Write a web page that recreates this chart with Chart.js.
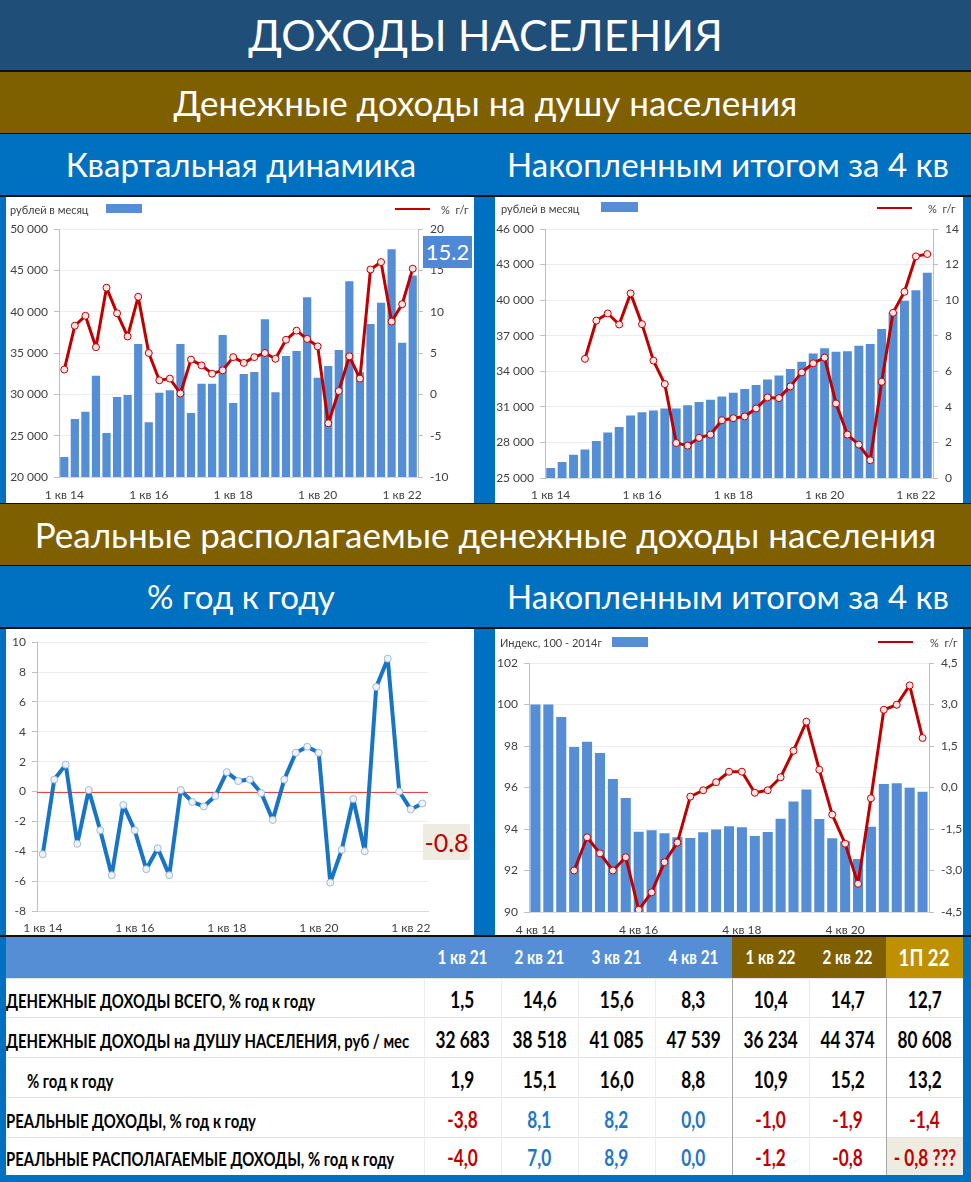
<!DOCTYPE html>
<html>
<head>
<meta charset="utf-8">
<script src="https://cdn.jsdelivr.net/npm/chart.js@4"></script>
<style>
  html, body { margin: 0; padding: 0; }
  body { width: 971px; height: 1182px; background: #0070C0; position: relative; overflow: hidden;
         font-family: Lato, "Open Sans", sans-serif; }
  .band { position: absolute; left: 0; width: 971px; color: #fff; text-align: center; }
  .sub { position: absolute; color: #fff; text-align: center; font-size: 33px; }
  .line { position: absolute; left: 0; width: 971px; background: #111; }
  .box { position: absolute; background: #fff; }
  .box canvas { position: absolute; left: 0; top: 0; }
  .lg { position: absolute; font-size: 11px; color: #404040; line-height: 1; }
  .sw { position: absolute; background: #558ED5; }
  .rl { position: absolute; height: 2px; background: #C00000; }
  .badge { position: absolute; text-align: center; }
  table { position: absolute; left: 6px; top: 937px; width: 957px; border-collapse: collapse; table-layout: fixed;
          font-family: Lato, sans-serif; font-weight: bold; }
  td { padding: 0; background: #fff; border-top: 1px solid #e3e3e3; border-left: 1px solid #ececec; white-space: nowrap; overflow: visible; }
  td .fx { display: flex; justify-content: center; width: 100%; }
  td span { display: inline-block; white-space: nowrap; flex: none; }
  td.lab { font-size: 18px; text-align: left; vertical-align: bottom; padding-bottom: 7px; line-height: 1; border-left: none; }
  td.lab span { transform-origin: left center; }
  td.num { font-size: 22px; vertical-align: bottom; padding-bottom: 6px; line-height: 1; }
  tr.head td { color: #fff; font-size: 18px; vertical-align: middle; border: none; background: #558ED5; }
</style>
</head>
<body>
<div class="band" style="top:0;height:70px;background:#1F4E79;font-size:43px;line-height:70px;">ДОХОДЫ НАСЕЛЕНИЯ</div>
<div class="line" style="top:70px;height:2px;"></div>
<div class="band" style="top:72px;height:61px;background:#7F6000;font-size:35px;line-height:61px;">Денежные доходы на душу населения</div>
<div class="line" style="top:133px;height:1px;"></div>
<div class="sub" style="left:0;width:482px;top:134px;line-height:61px;">Квартальная динамика</div>
<div class="sub" style="left:485px;width:486px;top:134px;line-height:61px;">Накопленным итогом за 4 кв</div>
<div class="line" style="top:195px;height:2px;"></div>

<div class="box" style="left:6px;top:197px;width:468px;height:306px;">
  <canvas id="c1" width="468" height="306"></canvas>
  <div class="lg" style="left:4px;top:7px;">рублей в месяц</div>
  <div class="sw" style="left:100px;top:7px;width:36px;height:9px;"></div>
  <div class="rl" style="left:389px;top:11px;width:35px;"></div>
  <div class="lg" style="left:435px;top:7px;">%&nbsp; г/г</div>
  <div class="badge" style="left:417px;top:39px;width:49px;height:32px;background:#4F88D6;color:#fff;font-size:22px;line-height:32px;">15.2</div>
</div>

<div class="box" style="left:495px;top:197px;width:468px;height:306px;">
  <canvas id="c2" width="468" height="306"></canvas>
  <div class="lg" style="left:6px;top:6px;">рублей в месяц</div>
  <div class="sw" style="left:106px;top:5px;width:37px;height:10px;"></div>
  <div class="rl" style="left:382px;top:10px;width:35px;"></div>
  <div class="lg" style="left:433px;top:6px;">%&nbsp; г/г</div>
</div>

<div class="line" style="top:503px;height:1px;"></div>
<div class="band" style="top:504px;height:61px;background:#7F6000;font-size:35px;line-height:61px;">Реальные располагаемые денежные доходы населения</div>
<div class="line" style="top:565px;height:1px;"></div>
<div class="sub" style="left:0;width:482px;top:566px;line-height:61px;">% год к году</div>
<div class="sub" style="left:485px;width:486px;top:566px;line-height:61px;">Накопленным итогом за 4 кв</div>
<div class="line" style="top:627px;height:2px;"></div>

<div class="box" style="left:6px;top:629px;width:468px;height:306px;">
  <canvas id="c3" width="468" height="306"></canvas>
  <div class="badge" style="left:417px;top:195px;width:47px;height:36px;background:#EEECE1;color:#C00000;font-size:25px;line-height:36px;">-0.8</div>
</div>

<div class="box" style="left:495px;top:629px;width:468px;height:306px;">
  <canvas id="c4" width="468" height="306"></canvas>
  <div class="lg" style="left:5px;top:8px;">Индекс, 100 - 2014г</div>
  <div class="sw" style="left:117px;top:8px;width:36px;height:10px;"></div>
  <div class="rl" style="left:383px;top:12px;width:35px;"></div>
  <div class="lg" style="left:435px;top:8px;">%&nbsp; г/г</div>
</div>

<div class="line" style="top:935px;height:2px;"></div>
<table id="tbl"></table>

<script>
// quarters 1 кв 14 .. 2 кв 22
const quarterLabels = [
  "1 кв 14", "2 кв 14", "3 кв 14", "4 кв 14", "1 кв 15", "2 кв 15", "3 кв 15", "4 кв 15",
  "1 кв 16", "2 кв 16", "3 кв 16", "4 кв 16", "1 кв 17", "2 кв 17", "3 кв 17", "4 кв 17",
  "1 кв 18", "2 кв 18", "3 кв 18", "4 кв 18", "1 кв 19", "2 кв 19", "3 кв 19", "4 кв 19",
  "1 кв 20", "2 кв 20", "3 кв 20", "4 кв 20", "1 кв 21", "2 кв 21", "3 кв 21", "4 кв 21",
  "1 кв 22", "2 кв 22"
];
// 4 кв 14 .. 2 кв 22
const accumLabels = quarterLabels.slice(3);

// денежные доходы на душу, руб в месяц (квартал)
const incomeQuarterly = [22420, 27020, 27900, 32260, 25320, 29680, 29920, 36090, 26610, 30200, 30480, 36090,
  27740, 31290, 31290, 37180, 28950, 32460, 32700, 39070, 30240, 34640, 35240, 41730,
  32020, 33430, 35360, 43670, 32683, 38518, 41085, 47539, 36234, 44374];
const incomeQuarterlyYoY = [3.0, 8.3, 9.5, 5.7, 12.9, 9.8, 7.0, 11.8, 5.0, 1.7, 1.9, 0.1,
  4.2, 3.5, 2.5, 2.9, 4.5, 3.8, 4.5, 5.0, 4.3, 6.6, 7.7, 6.7,
  5.8, -3.5, 0.4, 4.6, 1.9, 15.1, 16.0, 8.8, 10.9, 15.2];

// накопленным итогом за 4 кв
const incomeAccum = [25850, 26350, 26970, 27400, 28130, 28830, 29310, 30270, 30550, 30690, 30860, 30860,
  31140, 31400, 31600, 31880, 32190, 32500, 32840, 33310, 33650, 34190, 34810, 35510,
  35940, 35650, 35680, 36160, 36300, 37570, 38989, 39956, 40844, 42308];
const incomeAccumYoY = [null, null, null, 6.7, 8.85, 9.25, 8.63, 10.38, 8.65, 6.6, 5.28, 1.97,
  1.82, 2.26, 2.44, 3.25, 3.36, 3.46, 3.91, 4.53, 4.49, 5.15, 5.94, 6.45,
  6.77, 4.19, 2.44, 1.88, 1.0, 5.41, 9.29, 10.47, 12.46, 12.59];

// реальные располагаемые доходы, % г/г
const realDispYoY = [-4.2, 0.8, 1.8, -3.5, 0.1, -2.6, -5.6, -0.9, -2.6, -5.2, -3.8, -5.6,
  0.1, -0.7, -1.0, -0.3, 1.3, 0.7, 0.8, -0.1, -1.9, 0.8, 2.6, 3.0,
  2.6, -6.1, -3.9, -0.5, -4.0, 7.0, 8.9, 0.0, -1.2, -0.8];

// индекс реальных доходов, 100 - 2014г (4 кв 14 .. 2 кв 22)
const realIndex = [100.0, 100.0, 99.4, 97.95, 98.2, 97.66, 96.41, 95.49, 93.87, 93.94, 93.79, 93.6,
  93.57, 93.84, 93.98, 94.13, 94.08, 93.66, 93.86, 94.5, 95.33, 95.9, 94.48, 93.55,
  93.41, 92.55, 94.11, 96.17, 96.2, 95.99, 95.8];
const realIndexYoY = [null, null, null, -3.0, -1.8, -2.38, -3.0, -2.52, -4.42, -3.79, -2.7, -1.99,
  -0.33, -0.1, 0.19, 0.57, 0.57, -0.19, -0.1, 0.37, 1.33, 2.38, 0.64, -0.98,
  -2.03, -3.48, -0.39, 2.81, 2.99, 3.69, 1.79];

// таблица
const tableCols = ["1 кв 21", "2 кв 21", "3 кв 21", "4 кв 21", "1 кв 22", "2 кв 22", "1П 22"];
const rowLabels = [
  "ДЕНЕЖНЫЕ ДОХОДЫ ВСЕГО, % год к году",
  "ДЕНЕЖНЫЕ ДОХОДЫ на ДУШУ НАСЕЛЕНИЯ, руб / мес",
  "% год к году",
  "РЕАЛЬНЫЕ ДОХОДЫ, % год к году",
  "РЕАЛЬНЫЕ РАСПОЛАГАЕМЫЕ ДОХОДЫ, % год к году"
];
const rowTotalYoY = ["1,5", "14,6", "15,6", "8,3", "10,4", "14,7", "12,7"];
const rowPerCapita = ["32 683", "38 518", "41 085", "47 539", "36 234", "44 374", "80 608"];
const rowPerCapitaYoY = ["1,9", "15,1", "16,0", "8,8", "10,9", "15,2", "13,2"];
const rowReal = ["-3,8", "8,1", "8,2", "0,0", "-1,0", "-1,9", "-1,4"];
const rowRealDisp = ["-4,0", "7,0", "8,9", "0,0", "-1,2", "-0,8", "- 0,8 ???"];

Chart.defaults.font.family = 'Lato, "Open Sans", sans-serif';
Chart.defaults.font.size = 12;
Chart.defaults.color = "#404040";
Chart.defaults.animation = false;
Chart.defaults.plugins.legend.display = false;
Chart.defaults.plugins.tooltip.enabled = false;

const AXIS = "#BFBFBF";
const GRID = "#EDEDED";
const BAR = "#558ED5";
const RED = "#C00000";

function spaced(v) {
  return String(v).replace(/\B(?=(\d{3})+(?!\d))/g, " ");
}

function xAxis(labels, h, pad) {
  return {
    offset: true,
    grid: { display: false, drawTicks: false },
    border: { color: "#D9D9D9" },
    ticks: { autoSkip: false, maxRotation: 0, padding: pad,
             callback: (v, i) => (i % 8 === 0 ? labels[i] : "") },
    afterFit: s => { s.height = h; }
  };
}

function leftAxis(min, max, step, w, fmt) {
  return {
    position: "left", min: min, max: max,
    ticks: { stepSize: step, padding: 6, callback: fmt },
    grid: { color: GRID, tickColor: AXIS, tickLength: 5 },
    border: { color: AXIS },
    afterFit: s => { s.width = w; }
  };
}

function rightAxis(min, max, step, w, fmt) {
  return {
    position: "right", min: min, max: max,
    ticks: { stepSize: step, padding: 7, callback: fmt },
    grid: { drawOnChartArea: false, tickColor: AXIS, tickLength: 5 },
    border: { color: AXIS },
    afterFit: s => { s.width = w; }
  };
}

function redLine(data) {
  return {
    type: "line", data: data, yAxisID: "y1", order: 0,
    borderColor: RED, borderWidth: 3, tension: 0, borderJoinStyle: "round",
    pointRadius: 3.5, pointBackgroundColor: "#FBE4E4", pointBorderColor: RED, pointBorderWidth: 1
  };
}

function blueBars(data) {
  return {
    type: "bar", data: data, yAxisID: "y", order: 1,
    backgroundColor: BAR, categoryPercentage: 1, barPercentage: 0.78
  };
}

// thin red line at zero, under the data
const zeroLine = {
  id: "zeroLine",
  beforeDatasetsDraw(chart) {
    const y = Math.round(chart.scales.y.getPixelForValue(0)) + 0.5;
    const a = chart.chartArea;
    const ctx = chart.ctx;
    ctx.save();
    ctx.strokeStyle = "#E8453C";
    ctx.lineWidth = 1;
    ctx.beginPath();
    ctx.moveTo(a.left, y);
    ctx.lineTo(a.right, y);
    ctx.stroke();
    ctx.restore();
  }
};

// 1. квартальная динамика
new Chart(document.getElementById("c1"), {
  data: { labels: quarterLabels, datasets: [redLine(incomeQuarterlyYoY), blueBars(incomeQuarterly)] },
  options: {
    responsive: false,
    layout: { padding: { top: 32, left: 0, right: 0, bottom: 0 } },
    scales: {
      x: xAxis(quarterLabels, 26, 11),
      y: leftAxis(20000, 50000, 5000, 53, v => spaced(v)),
      y1: rightAxis(-10, 20, 5, 56, v => v)
    }
  }
});

// 2. накопленным итогом за 4 кв
new Chart(document.getElementById("c2"), {
  data: { labels: quarterLabels, datasets: [redLine(incomeAccumYoY), blueBars(incomeAccum)] },
  options: {
    responsive: false,
    layout: { padding: { top: 32, left: 0, right: 0, bottom: 0 } },
    scales: {
      x: xAxis(quarterLabels, 25, 10),
      y: leftAxis(25000, 46000, 3000, 50, v => spaced(v)),
      y1: rightAxis(0, 14, 2, 30, v => v)
    }
  }
});

// 3. реальные располагаемые, % г/г
new Chart(document.getElementById("c3"), {
  type: "line",
  data: {
    labels: quarterLabels,
    datasets: [{
      data: realDispYoY, borderColor: "#1874C4", borderWidth: 4, tension: 0, borderJoinStyle: "round",
      pointRadius: 3.5, pointBackgroundColor: "#EEF3F9", pointBorderColor: "#9DB9D8", pointBorderWidth: 1
    }]
  },
  options: {
    responsive: false,
    layout: { padding: { top: 13, left: 0, right: 46, bottom: 0 } },
    scales: {
      x: xAxis(quarterLabels, 24, 10),
      y: leftAxis(-8, 10, 2, 31, v => v)
    }
  },
  plugins: [zeroLine]
});

// 4. индекс реальных доходов, накопленным итогом
new Chart(document.getElementById("c4"), {
  data: { labels: accumLabels, datasets: [redLine(realIndexYoY), blueBars(realIndex)] },
  options: {
    responsive: false,
    layout: { padding: { top: 34, left: 0, right: 0, bottom: 0 } },
    scales: {
      x: xAxis(accumLabels, 23, 11),
      y: leftAxis(90, 102, 2, 34, v => v),
      y1: rightAxis(-4.5, 4.5, 1.5, 34, v => v.toFixed(1).replace(".", ","))
    }
  }
});

// таблица
const tbl = document.getElementById("tbl");
const colW = [418, 77, 77, 77, 77, 77, 77, 77];
const cg = document.createElement("colgroup");
colW.forEach(w => { const c = document.createElement("col"); c.style.width = w + "px"; cg.appendChild(c); });
tbl.appendChild(cg);

function cell(text, cls) {
  const td = document.createElement("td");
  if (cls) td.className = cls;
  const sp = document.createElement("span");
  sp.textContent = text;
  if (cls === "lab") {
    td.appendChild(sp);
  } else {
    const fx = document.createElement("div");
    fx.className = "fx";
    fx.appendChild(sp);
    td.appendChild(fx);
  }
  return td;
}

const head = document.createElement("tr");
head.className = "head";
head.style.height = "41px";
head.appendChild(document.createElement("td"));
tableCols.forEach((c, i) => {
  const td = cell(c, "hd");
  if (i === 4 || i === 5) td.style.background = "#7F6000";
  if (i === 6) { td.style.background = "#BF9000"; td.style.fontSize = "22px"; }
  head.appendChild(td);
});
tbl.appendChild(head);

const rows = [rowTotalYoY, rowPerCapita, rowPerCapitaYoY, rowReal, rowRealDisp];
const rowH = [39, 40, 40, 40, 38];
rows.forEach((vals, r) => {
  const tr = document.createElement("tr");
  tr.style.height = rowH[r] + "px";
  const lab = cell(rowLabels[r], "lab");
  if (r === 2) lab.style.paddingLeft = "21px";
  tr.appendChild(lab);
  vals.forEach((v, i) => {
    const td = cell(v, "num");
    if (r >= 3) td.style.color = v.indexOf("-") === 0 ? "#C00000" : "#1F77C4";
    if (i === 4 || i === 6) td.style.borderLeft = "1px solid #A6A6A6";
    if (r === 4 && i === 6) td.style.background = "#EEECE1";
    tr.appendChild(td);
  });
  tbl.appendChild(tr);
});

// condensed look of the table font
function squeeze() {
  const labs = tbl.querySelectorAll("td.lab span");
  const nums = tbl.querySelectorAll("td.num span");
  const hds = tbl.querySelectorAll("td.hd span");
  const kLab = 309 / labs[0].offsetWidth;
  const kNum = 54 / nums[7].offsetWidth;
  const kHd = 50 / hds[0].offsetWidth;
  labs.forEach(s => { s.style.transform = "scaleX(" + kLab + ")"; });
  nums.forEach(s => { s.style.transform = "scaleX(" + kNum + ")"; });
  hds.forEach(s => { s.style.transform = "scaleX(" + kHd + ")"; });
}
squeeze();
if (document.fonts && document.fonts.ready) document.fonts.ready.then(squeeze);
</script>
</body>
</html>
